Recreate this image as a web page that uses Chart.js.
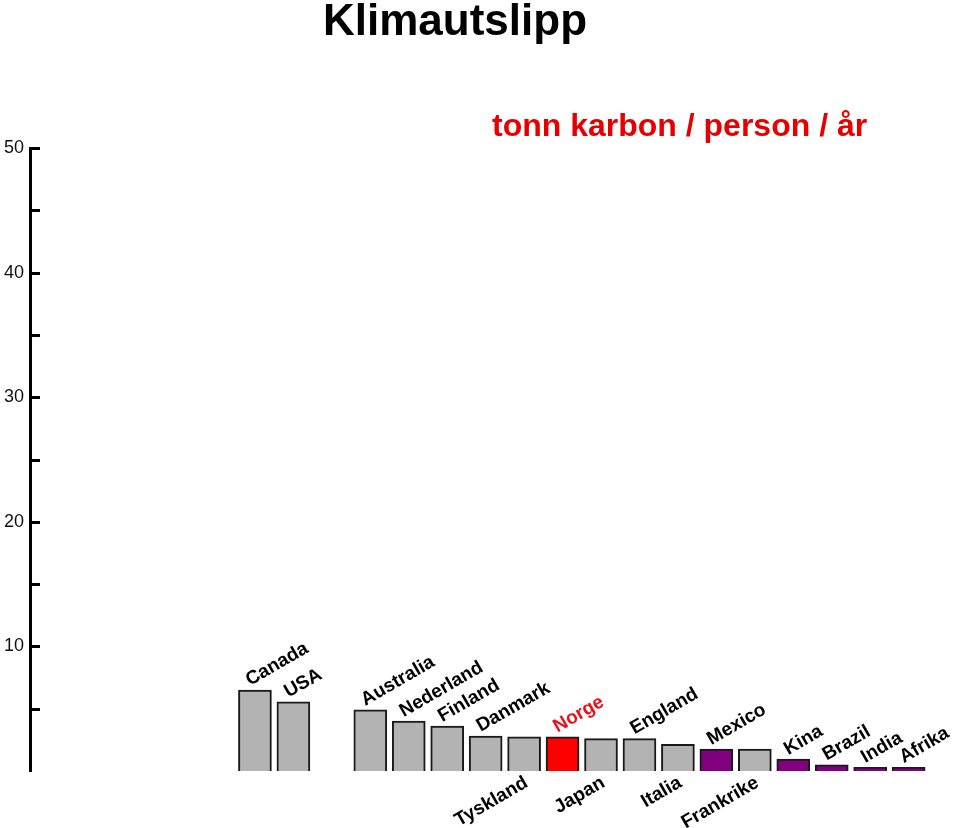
<!DOCTYPE html>
<html>
<head>
<meta charset="utf-8">
<title>Klimautslipp</title>
<script src="https://cdn.jsdelivr.net/npm/chart.js@4.4.1/dist/chart.umd.min.js"></script>
<style>
  html, body { margin: 0; padding: 0; background: #fff; }
</style>
</head>
<body>
<canvas id="chart" width="960" height="828"></canvas>
<script>
// data
const categories = ['Canada', 'USA', '', 'Australia', 'Nederland', 'Finland', 'Danmark', 'Tyskland', 'Norge',
    'Japan', 'England', 'Italia', 'Mexico', 'Frankrike', 'Kina', 'Brazil', 'India', 'Afrika'];
const values = [6.5, 5.55, null, 4.9, 4.0, 3.6, 2.8, 2.75, 2.75, 2.6, 2.6, 2.15, 1.75, 1.75, 0.95, 0.5, 0.3, 0.3];
const yTickLabels = [10, 20, 30, 40, 50];
const labelsBelow = ['Tyskland', 'Japan', 'Italia', 'Frankrike'];
const purpleOnes = ['Mexico', 'Kina', 'Brazil', 'India', 'Afrika'];
const home = 'Norge';
const title = 'Klimautslipp';
const unitText = 'tonn karbon / person / år';

const FONT = "'Liberation Sans', Arial, Helvetica, sans-serif";
Chart.defaults.font.family = FONT;

function barColor(name) {
    if (name === home) return '#ff0000';
    if (purpleOnes.includes(name)) return '#800080';
    return '#b3b3b3';
}

// small tick marks drawn inward from the axis, plus titles and country names
const decorations = {
    id: 'decorations',
    afterDraw(chart) {
        const ctx = chart.ctx;
        const area = chart.chartArea;
        const y = chart.scales.y;
        ctx.save();

        // ticks
        ctx.strokeStyle = '#000';
        ctx.lineWidth = 3;
        y.ticks.forEach(t => {
            if (t.value <= 0) return;
            const py = Math.round(y.getPixelForValue(t.value)) + 0.5;
            ctx.beginPath();
            ctx.moveTo(area.left, py);
            ctx.lineTo(area.left + 10, py);
            ctx.stroke();
        });

        // title
        ctx.fillStyle = '#000';
        ctx.font = 'bold 44px ' + FONT;
        ctx.textAlign = 'center';
        ctx.textBaseline = 'alphabetic';
        ctx.fillText(title, 455, 35);

        ctx.fillStyle = '#e60000';
        ctx.font = 'bold 32px ' + FONT;
        ctx.textAlign = 'left';
        ctx.fillText(unitText, 492, area.top - 12);

        // country names
        const meta = chart.getDatasetMeta(0);
        ctx.font = 'bold 19px ' + FONT;
        meta.data.forEach((bar, i) => {
            const name = categories[i];
            if (!name) return;
            ctx.save();
            ctx.fillStyle = name === home ? '#e8101a' : '#000';
            if (labelsBelow.includes(name)) {
                ctx.translate(bar.x + 5, bar.base + 15);
                ctx.rotate(-Math.PI / 6);
                ctx.textAlign = 'right';
            } else {
                ctx.translate(bar.x - 5, bar.y - 4);
                ctx.rotate(-Math.PI / 6);
                ctx.textAlign = 'left';
            }
            ctx.fillText(name, 0, 0);
            ctx.restore();
        });
        ctx.restore();
    }
};

const ctx = document.getElementById('chart').getContext('2d');
const chart = new Chart(ctx, {
    type: 'bar',
    data: {
        datasets: [{
            data: values.map((v, i) => ({ x: i, y: v })),
            backgroundColor: categories.map(barColor),
            borderColor: '#1a1a1a',
            borderWidth: 2,
            barThickness: 33
        }]
    },
    options: {
        responsive: false,
        animation: false,
        devicePixelRatio: 1,
        layout: { padding: { top: 148, bottom: 57, left: 0, right: 1 } },
        plugins: {
            legend: { display: false },
            tooltip: { enabled: false }
        },
        scales: {
            x: {
                type: 'linear',
                display: false,
                min: -5.85,
                max: 18.31,
                offset: false
            },
            y: {
                min: 0,
                max: 50,
                afterFit: s => { s.width = 30; },
                grid: { display: false, drawTicks: false },
                border: { display: true, color: '#000', width: 3 },
                ticks: {
                    stepSize: 5,
                    padding: 6,
                    color: '#111',
                    font: { size: 18 },
                    callback: v => yTickLabels.includes(v) ? v : ''
                }
            }
        }
    },
    plugins: [decorations]
});
</script>
</body>
</html>
